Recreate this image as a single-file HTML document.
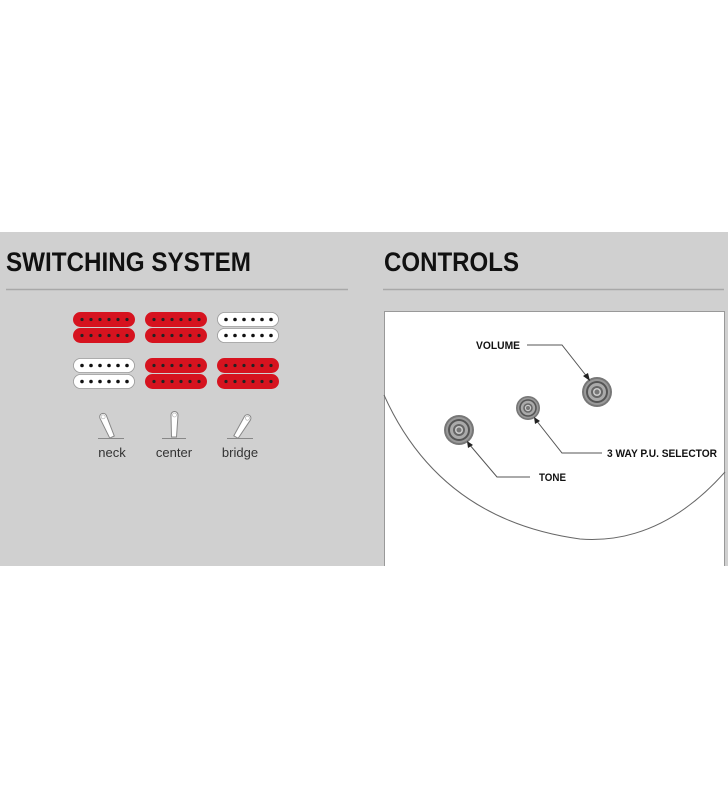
<!DOCTYPE html>
<html><head><meta charset="utf-8"><style>
html,body{margin:0;padding:0;background:#fff;}
svg{display:block;}
</style></head><body>
<svg width="728" height="800" viewBox="0 0 728 800" xmlns="http://www.w3.org/2000/svg" font-family="Liberation Sans, sans-serif">
<rect x="0" y="232" width="728" height="334" fill="#d0d0d0"/>
<text x="6" y="271" font-size="27" font-weight="bold" fill="#111" textLength="245" lengthAdjust="spacingAndGlyphs">SWITCHING SYSTEM</text>
<text x="384" y="271" font-size="27" font-weight="bold" fill="#111" textLength="135" lengthAdjust="spacingAndGlyphs">CONTROLS</text>
<line x1="6" y1="289.5" x2="348" y2="289.5" stroke="#a8a8a8" stroke-width="1.5"/>
<line x1="383" y1="289.5" x2="724" y2="289.5" stroke="#a8a8a8" stroke-width="1.5"/>

<defs>
<g id="coilR"><rect x="0" y="0" width="62" height="15" rx="7.5" fill="#d6131f"/><g fill="#222"><circle cx="9" cy="7.5" r="1.6"/><circle cx="18" cy="7.5" r="1.6"/><circle cx="27" cy="7.5" r="1.6"/><circle cx="36" cy="7.5" r="1.6"/><circle cx="45" cy="7.5" r="1.6"/><circle cx="54" cy="7.5" r="1.6"/></g></g>
<g id="coilW"><rect x="0.5" y="0.5" width="61" height="14" rx="7" fill="#fff" stroke="#999" stroke-width="0.8"/><g fill="#111"><circle cx="9" cy="7.5" r="1.8"/><circle cx="18" cy="7.5" r="1.8"/><circle cx="27" cy="7.5" r="1.8"/><circle cx="36" cy="7.5" r="1.8"/><circle cx="45" cy="7.5" r="1.8"/><circle cx="54" cy="7.5" r="1.8"/></g></g>
<g id="tog"><path d="M-2.5 0 L-3 -22 A3.5 3.5 0 0 1 4 -22 L2.5 0 Z" fill="#fff" stroke="#888" stroke-width="1"/><circle cx="0.5" cy="-22" r="2" fill="#fff" stroke="#aaa" stroke-width="0.6"/></g>
</defs>
<use href="#coilR" x="73" y="312"/><use href="#coilR" x="73" y="328"/>
<use href="#coilR" x="145" y="312"/><use href="#coilR" x="145" y="328"/>
<use href="#coilW" x="217" y="312"/><use href="#coilW" x="217" y="328"/>
<use href="#coilW" x="73" y="358"/><use href="#coilW" x="73" y="374"/>
<use href="#coilR" x="145" y="358"/><use href="#coilR" x="145" y="374"/>
<use href="#coilR" x="217" y="358"/><use href="#coilR" x="217" y="374"/>

<g stroke="#888" stroke-width="1">
<line x1="98" y1="438.5" x2="124" y2="438.5"/>
<line x1="162" y1="438.5" x2="186" y2="438.5"/>
<line x1="227" y1="438.5" x2="253" y2="438.5"/>
</g>
<use href="#tog" transform="translate(112,437) rotate(-25)"/>
<use href="#tog" transform="translate(174,437)"/>
<use href="#tog" transform="translate(236,437) rotate(30)"/>
<g font-size="13" fill="#333" text-anchor="middle">
<text x="112" y="457">neck</text><text x="174" y="457">center</text><text x="240" y="457">bridge</text>
</g>

<path d="M384 566 V311 H725 V566 Z" fill="#fff"/>
<path d="M384.5 566 V311.5 H724.5 V566" fill="none" stroke="#999" stroke-width="1"/>
<path d="M384 395 Q 440 520 580 539 Q 660 545 725 472" fill="none" stroke="#666" stroke-width="1"/>
<defs><g id="knob"><circle r="15" fill="#777"/><circle r="13" fill="#999"/><circle r="11" fill="#555"/><circle r="9" fill="#aaa"/><circle r="6" fill="#666"/><circle r="4" fill="#ccc"/><circle r="2.5" fill="#777"/></g></defs>
<use href="#knob" x="597" y="392"/>
<use href="#knob" x="459" y="430"/>
<g transform="translate(528,408) scale(0.8)"><use href="#knob"/></g>
<g stroke="#555" stroke-width="1" fill="none">
<polyline points="527,345 562,345 588,378"/>
<polyline points="602,453 562,453 536,420"/>
<polyline points="530,477 497,477 469,444"/>
</g>
<g fill="#222">
<polygon points="590,381 583,376 588,373"/>
<polygon points="534,417 540,421 535,424"/>
<polygon points="467,441 473,445 468,448"/>
</g>
<g font-size="11" font-weight="bold" fill="#111">
<text x="476" y="349" textLength="44" lengthAdjust="spacingAndGlyphs">VOLUME</text>
<text x="607" y="457" textLength="110" lengthAdjust="spacingAndGlyphs">3 WAY P.U. SELECTOR</text>
<text x="539" y="481" textLength="27" lengthAdjust="spacingAndGlyphs">TONE</text>
</g>
</svg>
</body></html>
